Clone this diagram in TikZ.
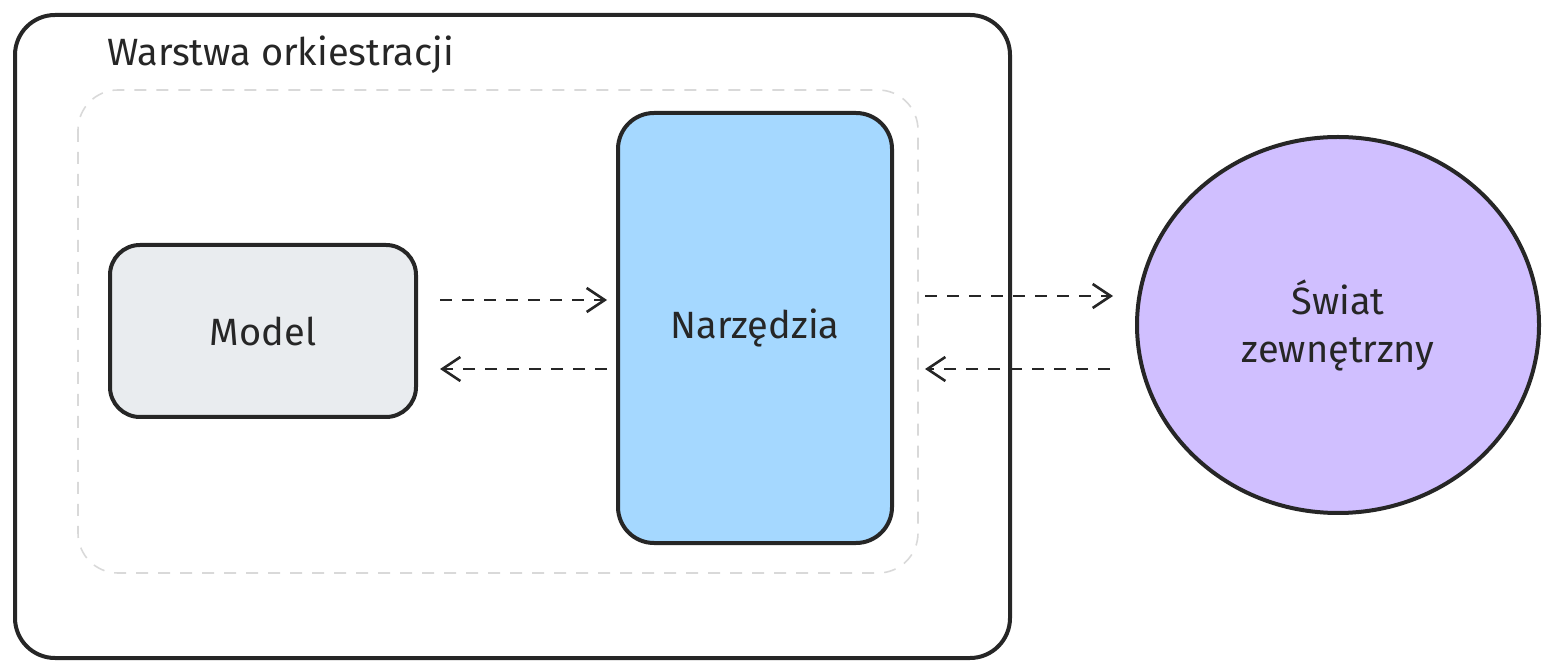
\documentclass[tikz,border=0pt]{standalone}
\usepackage{fontspec}
\setmainfont{Fira Sans}
\usetikzlibrary{arrows.meta,shapes.geometric}
\begin{document}
\begin{tikzpicture}[x=0.5pt,y=-0.5pt,
  box/.style={draw=black!85,line width=2pt},
  lbl/.style={font=\fontsize{19}{24}\selectfont,text=black!85,align=center},
  arr/.style={draw=black!85,line width=1.3pt,dash pattern=on 6pt off 5pt,-{Straight Barb[length=9pt,width=12pt]}}]
\useasboundingbox (0,0) rectangle (1550,672);
\draw[box,rounded corners=20pt] (15,15) rectangle (1010,658);
\node[lbl,anchor=west] (title) at (100,55) {Warstwa orkiestracji};
\draw[black!15,line width=0.8pt,dash pattern=on 6pt off 5pt,rounded corners=20pt] (78,90) rectangle (918,573);
\node[box,fill={rgb,255:red,233;green,236;blue,239},rounded corners=15pt,minimum width=153pt,minimum height=86pt,lbl] (model) at (263,331) {Model};
\node[box,fill={rgb,255:red,165;green,216;blue,255},rounded corners=18pt,minimum width=137pt,minimum height=215pt,lbl] (tools) at (755,328) {Narzędzia};
\node[box,fill={rgb,255:red,208;green,191;blue,255},ellipse,minimum width=201pt,minimum height=188pt,inner sep=0pt,lbl] (world) at (1338,325) {Świat\\zewnętrzny};
\coordinate (a1) at (440,300); \coordinate (a2) at (607,300);
\coordinate (b1) at (607,369); \coordinate (b2) at (440,369);
\coordinate (c1) at (925,296); \coordinate (c2) at (1113,296);
\coordinate (d1) at (1110,369); \coordinate (d2) at (925,369);
\draw[arr] (a1) -- (a2);
\draw[arr] (b1) -- (b2);
\draw[arr] (c1) -- (c2);
\draw[arr] (d1) -- (d2);
\end{tikzpicture}
\end{document}
